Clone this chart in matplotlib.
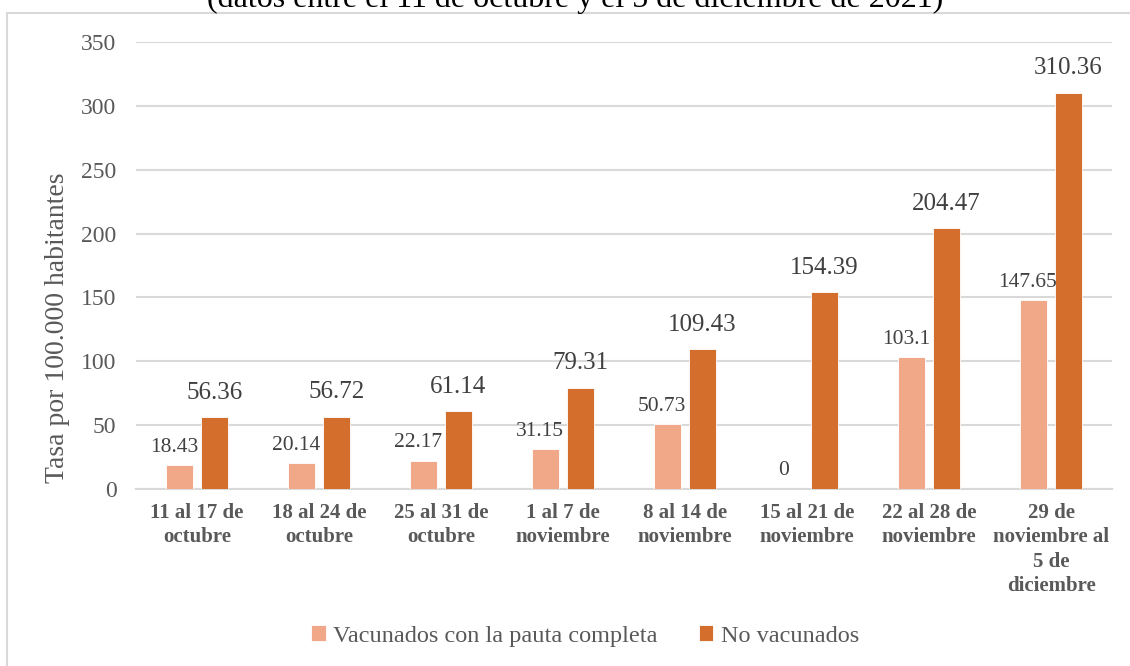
import matplotlib.pyplot as plt
import matplotlib.patches as mpatches
import numpy as np

# datos
semanas = ["11 al 17 de\noctubre", "18 al 24 de\noctubre", "25 al 31 de\noctubre",
           "1 al 7 de\nnoviembre", "8 al 14 de\nnoviembre", "15 al 21 de\nnoviembre",
           "22 al 28 de\nnoviembre", "29 de\nnoviembre al\n5 de\ndiciembre"]
vacunados = [18.43, 20.14, 22.17, 31.15, 50.73, 0, 103.1, 147.65]
no_vacunados = [56.36, 56.72, 61.14, 79.31, 109.43, 154.39, 204.47, 310.36]
etiquetas_vac = ["18.43", "20.14", "22.17", "31.15", "50.73", "0", "103.1", "147.65"]
etiquetas_no = ["56.36", "56.72", "61.14", "79.31", "109.43", "154.39", "204.47", "310.36"]

color_vac = '#F0A889'
color_no = '#D46E2C'
gris = '#595959'

plt.rcParams['font.family'] = ['Liberation Serif', 'DejaVu Serif']

fig = plt.figure(figsize=(11.3, 6.66), dpi=100)
W, H = 1130, 666

# marco exterior del grafico (lado derecho y abajo fuera de la imagen)
fig.patches.append(mpatches.Rectangle((7 / W, -0.05), 1.1, 1 - 13 / H + 0.05,
                                      transform=fig.transFigure, fill=False,
                                      edgecolor='#D9D9D9', linewidth=1.5))

# titulo (cortado arriba)
fig.text(575 / W, 1 - 7 / H, "(datos entre el 11 de octubre y el 5 de diciembre de 2021)",
         ha='center', va='baseline', fontsize=23, color='black')

ax = fig.add_axes([136 / W, 1 - 489 / H, 976 / W, 447 / H])

x = np.arange(len(semanas))
ancho = 0.22
desp = 0.143
b1 = ax.bar(x - desp, vacunados, ancho, color=color_vac, edgecolor='white', linewidth=0.6,
            label="Vacunados con la pauta completa", zorder=3)
b2 = ax.bar(x + desp, no_vacunados, ancho, color=color_no, edgecolor='white', linewidth=0.6,
            label="No vacunados", zorder=3)

for xi, v, t in zip(x, vacunados, etiquetas_vac):
    ax.annotate(t, (xi - desp, v), xytext=(-4, 13), textcoords='offset points',
                ha='center', va='center', fontsize=15.5, color='#404040')
for xi, v, t in zip(x, no_vacunados, etiquetas_no):
    ax.annotate(t, (xi + desp, v), xytext=(0, 17.5), textcoords='offset points',
                ha='center', va='center', fontsize=18, color='#404040')

ax.set_xlim(-0.5, len(semanas) - 0.5)
ax.set_ylim(0, 350)
ax.set_yticks(np.arange(0, 351, 50))
ax.yaxis.grid(True, color='#D9D9D9', linewidth=1.5, zorder=0)
ax.set_axisbelow(True)
for s in ['top', 'right', 'left']:
    ax.spines[s].set_visible(False)
ax.spines['bottom'].set_color('#D9D9D9')
ax.spines['bottom'].set_linewidth(1.5)
ax.tick_params(axis='y', length=0, pad=14, labelsize=17, labelcolor=gris)
ax.tick_params(axis='x', length=0, pad=10)
ax.set_xticks(x)
ax.set_xticklabels(semanas, fontsize=15, fontweight='bold', color=gris, linespacing=1.3,
                   va='top')

fig.text(57 / W, 1 - 328 / H, "Tasa por 100.000 habitantes", rotation=90,
         ha='center', va='center', fontsize=20, color=gris)

leg = fig.legend(handles=[b1, b2], loc='center', bbox_to_anchor=(585 / W, 1 - 636 / H),
                 ncol=2, frameon=False, fontsize=17.5, handlelength=0.6, handleheight=0.6,
                 handletextpad=0.3, columnspacing=1.7)
for t in leg.get_texts():
    t.set_color(gris)

fig.savefig('out.png', dpi=100)
